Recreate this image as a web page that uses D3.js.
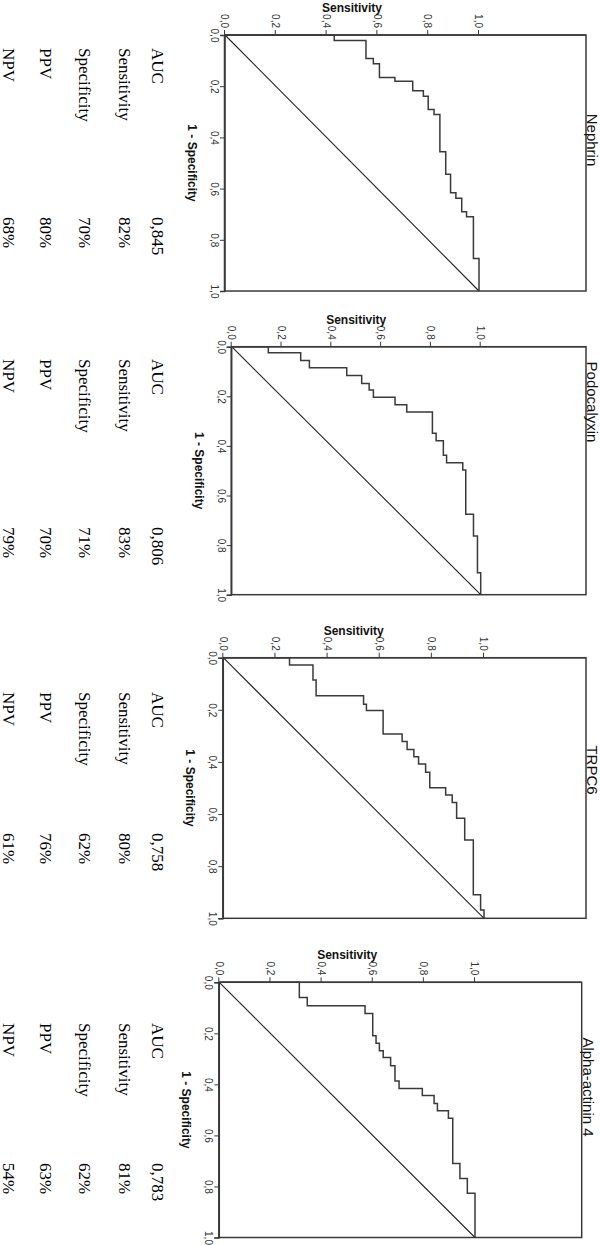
<!DOCTYPE html>
<html>
<head>
<meta charset="utf-8">
<script src="https://cdn.jsdelivr.net/npm/d3@7"></script>
<style>
  html, body { margin: 0; padding: 0; background: #fff; }
  svg { display: block; }
</style>
</head>
<body>
<svg id="chart" width="600" height="1245"></svg>
<script>
// ---------------- DATA ----------------
const panelTitles = ["Nephrin", "Podocalyxin", "TRPC6", "Alpha-actinin 4"];
const tickValues = [0, 0.2, 0.4, 0.6, 0.8, 1.0];
const xAxisTitle = "1 - Specificity";
const yAxisTitle = "Sensitivity";
const statLabels = ["AUC", "Sensitivity", "Specificity", "PPV", "NPV"];

const nephrinStats = ["0,845", "82%", "70%", "80%", "68%"];
const podocalyxinStats = ["0,806", "83%", "71%", "70%", "79%"];
const trpc6Stats = ["0,758", "80%", "62%", "76%", "61%"];
const actininStats = ["0,783", "81%", "62%", "63%", "54%"];

// ROC corner points (1 - specificity, sensitivity)
const nephrinFpr = [0, 0, 0.021, 0.092, 0.112, 0.166, 0.181, 0.218, 0.239, 0.291, 0.311, 0.456, 0.544, 0.616, 0.638, 0.690, 0.710, 0.873, 1.0];
const nephrinTpr = [0, 0.43, 0.555, 0.584, 0.608, 0.669, 0.739, 0.781, 0.800, 0.823, 0.846, 0.869, 0.888, 0.909, 0.932, 0.951, 0.978, 1.0, 1.0];

const podocalyxinFpr = [0, 0, 0.024, 0.056, 0.085, 0.116, 0.148, 0.175, 0.204, 0.234, 0.263, 0.349, 0.379, 0.438, 0.468, 0.497, 0.676, 0.763, 0.911, 1.0];
const podocalyxinTpr = [0, 0.147, 0.277, 0.312, 0.462, 0.522, 0.552, 0.569, 0.656, 0.703, 0.806, 0.821, 0.850, 0.863, 0.928, 0.940, 0.971, 0.987, 1.0, 1.0];

const trpc6Fpr = [0, 0, 0.028, 0.086, 0.146, 0.179, 0.203, 0.293, 0.322, 0.352, 0.380, 0.408, 0.440, 0.499, 0.527, 0.556, 0.616, 0.700, 0.910, 0.968, 1.0];
const trpc6Tpr = [0, 0.254, 0.344, 0.356, 0.538, 0.549, 0.613, 0.686, 0.705, 0.731, 0.749, 0.776, 0.792, 0.853, 0.878, 0.895, 0.926, 0.959, 0.987, 1.0, 1.0];

const actininFpr = [0, 0, 0.060, 0.092, 0.122, 0.209, 0.239, 0.268, 0.295, 0.327, 0.387, 0.416, 0.444, 0.475, 0.503, 0.533, 0.710, 0.769, 0.827, 1.0];
const actininTpr = [0, 0.313, 0.344, 0.570, 0.600, 0.613, 0.626, 0.641, 0.670, 0.687, 0.703, 0.794, 0.840, 0.853, 0.896, 0.913, 0.941, 0.970, 1.0, 1.0];

const panelFpr = [nephrinFpr, podocalyxinFpr, trpc6Fpr, actininFpr];
const panelTpr = [nephrinTpr, podocalyxinTpr, trpc6Tpr, actininTpr];
const panelStats = [nephrinStats, podocalyxinStats, trpc6Stats, actininStats];

// ---------------- LAYOUT (unrotated frame: 1245 x 600) ----------------
const layout = [
  { x0: 35,    x1: 291,    yb: 375,   yt: 121,   top: 14,   titleX: 140,  titleY: 12.8, labelX: 48,   valueX: 217 },
  { x0: 346.7, x1: 594.7,  yb: 368.3, yt: 119.3, top: 14,   titleX: 402,  titleY: 13.2, labelX: 359,  valueX: 527 },
  { x0: 657.7, x1: 918.3,  yb: 376.7, yt: 116,   top: 14,   titleX: 770,  titleY: 13.2, labelX: 692,  valueX: 833 },
  { x0: 982.3, x1: 1237.5, yb: 380.7, yt: 125,   top: 18.3, titleX: 1087, titleY: 16.8, labelX: 1023, valueX: 1163 }
];
const statBaselines = [448, 481, 521, 560, 597];
const lineColor = "#3a3a3a";
const fmt = d => d3.format(".1f")(d).replace(".", ",");

const svg = d3.select("#chart");
// rotate the whole figure 90 degrees clockwise
const root = svg.append("g").attr("transform", "translate(600,0) rotate(90)");

panelTitles.forEach((title, i) => {
  const L = layout[i];
  const g = root.append("g");
  const x = d3.scaleLinear().domain([0, 1]).range([L.x0, L.x1]);
  const y = d3.scaleLinear().domain([0, 1]).range([L.yb, L.yt]);

  // frame
  g.append("rect")
    .attr("x", L.x0).attr("y", L.top)
    .attr("width", L.x1 - L.x0).attr("height", L.yb - L.top)
    .attr("fill", "none").attr("stroke", lineColor).attr("stroke-width", 1.5);

  // axes
  const xAxis = d3.axisBottom(x).tickValues(tickValues).tickSize(5).tickPadding(2).tickFormat(fmt);
  const yAxis = d3.axisLeft(y).tickValues(tickValues).tickSize(5).tickPadding(2).tickFormat(fmt);
  const gx = g.append("g").attr("transform", `translate(0,${L.yb})`).call(xAxis);
  const gy = g.append("g").attr("transform", `translate(${L.x0},0)`).call(yAxis);
  [gx, gy].forEach(a => {
    a.select(".domain").attr("stroke", lineColor).attr("stroke-width", 1.5);
    a.selectAll(".tick line").attr("stroke", lineColor).attr("stroke-width", 1);
    a.selectAll(".tick text")
      .attr("font-family", "Liberation Sans, Arial, sans-serif")
      .attr("font-size", 10).attr("fill", "#333");
  });
  gy.select(".domain").attr("d", `M0,${L.yb}V${L.top}`);

  // axis titles
  g.append("text")
    .attr("x", (L.x0 + L.x1) / 2).attr("y", L.yb + 37)
    .attr("text-anchor", "middle")
    .attr("font-family", "Liberation Sans, Arial, sans-serif")
    .attr("font-weight", "bold").attr("font-size", 12).attr("fill", "#111")
    .text(xAxisTitle);
  g.append("text")
    .attr("transform", `translate(${L.x0 - 23},${(L.yb + L.yt) / 2}) rotate(-90)`)
    .attr("text-anchor", "middle")
    .attr("font-family", "Liberation Sans, Arial, sans-serif")
    .attr("font-weight", "bold").attr("font-size", 12).attr("fill", "#111")
    .text(yAxisTitle);

  // panel title
  g.append("text")
    .attr("x", L.titleX).attr("y", L.titleY)
    .attr("text-anchor", "middle")
    .attr("font-family", "Liberation Sans, Arial, sans-serif")
    .attr("font-size", 15).attr("fill", "#111")
    .text(title);

  // diagonal reference
  g.append("line")
    .attr("x1", x(0)).attr("y1", y(0)).attr("x2", x(1)).attr("y2", y(1))
    .attr("stroke", "#222").attr("stroke-width", 1.1);

  // ROC step curve
  const pts = panelFpr[i].map((f, k) => [f, panelTpr[i][k]]);
  const line = d3.line().x(d => x(d[0])).y(d => y(d[1])).curve(d3.curveStepAfter);
  g.append("path").attr("d", line(pts))
    .attr("fill", "none").attr("stroke", lineColor).attr("stroke-width", 1.5);

  // stats table
  statLabels.forEach((lab, k) => {
    g.append("text")
      .attr("x", L.labelX).attr("y", statBaselines[k])
      .attr("font-family", "Liberation Serif, Times New Roman, serif")
      .attr("font-size", 17).attr("fill", "#000")
      .text(lab);
    g.append("text")
      .attr("x", L.valueX).attr("y", statBaselines[k])
      .attr("font-family", "Liberation Serif, Times New Roman, serif")
      .attr("font-size", 17).attr("fill", "#000")
      .text(panelStats[i][k]);
  });
});
</script>
</body>
</html>
